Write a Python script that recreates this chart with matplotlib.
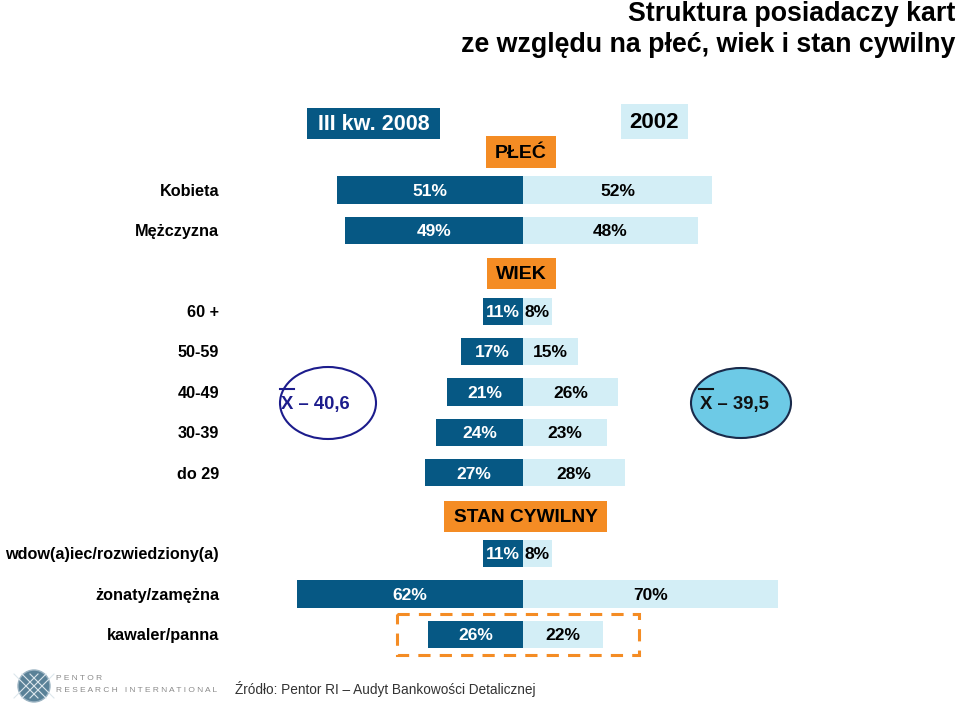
import matplotlib.pyplot as plt
from matplotlib.patches import Rectangle, Ellipse, Circle

plt.rcParams['font.family'] = ['Liberation Sans', 'DejaVu Sans']

# data
labels = ['Kobieta', 'Mężczyzna',
          '60 +', '50-59', '40-49', '30-39', 'do 29',
          'wdow(a)iec/rozwiedziony(a)', 'żonaty/zamężna', 'kawaler/panna']
rows = [0, 1, 3, 4, 5, 6, 7, 9, 10, 11]
q3_2008 = [51, 49, 11, 17, 21, 24, 27, 11, 62, 26]
y2002 = [52, 48, 8, 15, 26, 23, 28, 8, 70, 22]
mean_2008 = '40,6'
mean_2002 = '39,5'

dark = '#065884'
light = '#d3eef6'
orange = '#f48c24'

W, H = 960, 706
fig = plt.figure(figsize=(W / 100, H / 100), dpi=100)

# bar axes: 0% at px 523, 3.64 px per %, rows 40.4 px apart starting at px 190
ax = fig.add_axes([0, 0, 1, 1])
ax.set_xlim(-523 / 3.64, (W - 523) / 3.64)
ax.set_ylim((H - 190) / 40.4, -190 / 40.4)
ax.axis('off')

ax.barh(rows, [-v for v in q3_2008], height=0.67, color=dark)
ax.barh(rows, y2002, height=0.67, color=light)
for r, a, b, lab in zip(rows, q3_2008, y2002, labels):
    ax.text(-a / 2, r + 0.03, f'{a}%', ha='center', va='center', color='white',
            fontsize=12.5, fontweight='bold')
    ax.text(b / 2, r + 0.03, f'{b}%', ha='center', va='center', color='black',
            fontsize=12.5, fontweight='bold')
    ax.text(-83.5, r + 0.03, lab, ha='right', va='center', color='black',
            fontsize=11.7, fontweight='bold')

# overlay in pixel coords for decorations
dx = fig.add_axes([0, 0, 1, 1], facecolor='none')
dx.set_xlim(0, W)
dx.set_ylim(H, 0)
dx.axis('off')


def box(x0, y0, x1, y1, fc, txt, tc, fs):
    dx.add_patch(Rectangle((x0, y0), x1 - x0, y1 - y0, facecolor=fc, edgecolor='none'))
    dx.text((x0 + x1) / 2, (y0 + y1) / 2 + 1, txt, ha='center', va='center',
            color=tc, fontsize=fs, fontweight='bold')


box(307, 108, 440, 139, dark, 'III kw. 2008', 'white', 15.5)
box(621, 104, 688, 139, light, '2002', 'black', 16)
box(486, 136, 556, 168, orange, 'PŁEĆ', 'black', 14)
box(487, 258, 556, 289, orange, 'WIEK', 'black', 14)
box(444, 501, 607, 532, orange, 'STAN CYWILNY', 'black', 13.8)

# mean age ellipses
dx.add_patch(Ellipse((328, 403), 96, 72, facecolor='white', edgecolor='#1c1c8c', lw=1.5))
dx.text(281, 404, 'X – ' + mean_2008, ha='left', va='center', color='#1c1c8c',
        fontsize=13.3, fontweight='bold')
dx.plot([280, 294], [389, 389], color='#1c1c8c', lw=1.5)
dx.add_patch(Ellipse((741, 403), 100, 70, facecolor='#6dcae6', edgecolor='#1a2a4a', lw=1.5))
dx.text(700, 404, 'X – ' + mean_2002, ha='left', va='center', color='#111111',
        fontsize=13.3, fontweight='bold')
dx.plot([699, 713], [389, 389], color='#111111', lw=1.5)

# dashed frame around kawaler/panna
dx.add_patch(Rectangle((397, 614), 242, 41, facecolor='none', edgecolor=orange,
                       lw=2.2, linestyle=(0, (4, 3))))

# title
dx.text(955, 14, 'Struktura posiadaczy kart', ha='right', va='center',
        fontsize=19.3, fontweight='bold')
dx.text(955, 45, 'ze względu na płeć, wiek i stan cywilny', ha='right', va='center',
        fontsize=19.3, fontweight='bold')

# logo and source
dx.add_patch(Circle((34, 686), 16, facecolor='#5a8197', edgecolor='#9bb3c2', lw=1))
for k in (-8, 0, 8):
    dx.plot([22 + k, 46 + k], [674, 698], color='#dce6ec', lw=0.8)
    dx.plot([46 + k, 22 + k], [674, 698], color='#dce6ec', lw=0.8)
dx.set_xlim(0, W)
dx.set_ylim(H, 0)
dx.text(56, 679, 'P E N T O R', ha='left', va='center', color='#8a8a8a', fontsize=6)
dx.text(56, 691, 'R E S E A R C H   I N T E R N A T I O N A L', ha='left', va='center',
        color='#8a8a8a', fontsize=6)
dx.text(235, 689, 'Źródło: Pentor RI – Audyt Bankowości Detalicznej', ha='left',
        va='center', color='#333333', fontsize=9.8)

fig.savefig('out.png', dpi=100)
